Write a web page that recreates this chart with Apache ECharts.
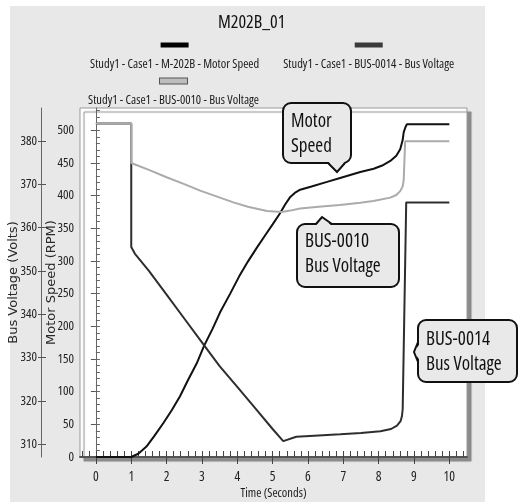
<!DOCTYPE html>
<html><head><meta charset="utf-8">
<script src="https://cdn.jsdelivr.net/npm/echarts@6/dist/echarts.min.js"></script>
<style>html,body{margin:0;padding:0;background:#fff}#c{width:518px;height:502px}</style>
</head><body><div id="c"></div>
<script>
// ---------- data ----------
const chartTitle = 'M202B_01';
const seriesNames = [
  'Study1 - Case1 - M-202B - Motor Speed',
  'Study1 - Case1 - BUS-0014 - Bus Voltage',
  'Study1 - Case1 - BUS-0010 - Bus Voltage'
];
const xTickValues = [0, 1, 2, 3, 4, 5, 6, 7, 8, 9, 10];
const rpmTickValues = [0, 50, 100, 150, 200, 250, 300, 350, 400, 450, 500];
const voltTickValues = [310, 320, 330, 340, 350, 360, 370, 380];

const speedTime = [0, 1, 1.2, 1.43, 1.65, 1.91, 2.15, 2.38, 2.6, 2.85, 3.06, 3.3, 3.51, 3.8, 4.05, 4.3, 4.55, 4.8, 5.0, 5.21, 5.35, 5.5, 5.65, 5.78, 6.1, 6.54, 6.91, 7.48, 7.86, 8.1, 8.33, 8.5, 8.61, 8.68, 8.71, 8.76, 8.8, 10];
const speedRPM  = [0, 0, 5, 16, 32, 52, 72, 93, 117, 143, 170, 196, 221, 250, 276, 299, 320, 340, 356, 373, 386, 398, 405, 409, 414, 421, 427, 436, 441, 446, 453, 461, 471, 485, 497, 505, 509, 509];

const bus14Time = [0, 1, 1, 1.1, 1.5, 2, 2.5, 3, 3.5, 4, 4.5, 5, 5.3, 5.67, 6.3, 6.91, 7.5, 8.05, 8.35, 8.52, 8.62, 8.66, 8.68, 8.78, 10];
const bus14Volt = [384, 384, 355.5, 354, 350, 344.5, 339, 333.5, 328, 323.2, 318.4, 313.5, 310.7, 311.7, 312, 312.3, 312.6, 313.0, 313.5, 314.3, 315.3, 316.5, 318, 365.8, 365.8];

const bus10Time = [0, 1, 1, 1.5, 2, 2.5, 2.95, 3.51, 3.89, 4.3, 4.84, 5.26, 5.5, 5.78, 6.3, 6.9, 7.48, 7.85, 8.33, 8.5, 8.61, 8.68, 8.71, 8.75, 10];
const bus10Volt = [384, 384, 374.9, 373.3, 371.6, 370.0, 368.5, 366.9, 365.8, 364.8, 363.8, 363.6, 363.9, 364.4, 364.8, 365.2, 365.7, 366.1, 366.9, 367.5, 368.4, 369.5, 371.0, 379.9, 379.9];

// ---------- helpers ----------
const zip = (xs, ys) => xs.map((x, i) => [x, ys[i]]);
const CF = '"Open Sans"';          // used with condensed stretch
const CW = 'normal condensed';     // weight + stretch keywords in the font shorthand
const CW5 = '500 condensed';
const WIDE = '"DejaVu Sans",Verdana,sans-serif';
const minorX = [];
for (let v = -0.4; v <= 10.41; v += 0.2) minorX.push(Math.round(v * 10) / 10);
const minorRPM = [];
for (let v = 0; v <= 530; v += 10) minorRPM.push(v);

const X_MIN = -0.45, X_MAX = 10.5;
const RPM_MAX = 534;
const V_MIN = 307.04, V_MAX = 387.58;

const mctx = document.createElement('canvas').getContext('2d');
function textW(str, size) { mctx.font = CW + ' ' + size + 'px ' + CF; return mctx.measureText(str).width; }

function bubble(x, y, w, h, tail, lines, textX, textY) {
  return {
    type: 'group', children: [
      { type: 'rect', shape: { x: x, y: y, width: w, height: h, r: 8 },
        style: { fill: '#e9e9e9', stroke: '#111', lineWidth: 2 }, z: 100 },
      { type: 'polygon', shape: { points: tail.fill },
        style: { fill: '#e9e9e9', stroke: null }, z: 101 },
      { type: 'polyline', shape: { points: tail.line },
        style: { stroke: '#111', lineWidth: 2, fill: null }, z: 102 },
      { type: 'text', x: textX, y: textY, z: 103,
        style: { text: lines, font: CW + ' 19px ' + CF, fill: '#111', lineHeight: 25, verticalAlign: 'top' } }
    ]
  };
}

const legendIcons = {};
legendIcons[seriesNames[0]] = 'a';
legendIcons[seriesNames[1]] = 'b';
legendIcons[seriesNames[2]] = 'c';
const legendRich = {
  t: { fontFamily: CF, fontWeight: CW5, fontSize: 12.5, color: '#1a1a1a', lineHeight: 16 },
  a: { width: 28, height: 5, backgroundColor: '#000', align: 'center', lineHeight: 22 },
  b: { width: 28, height: 5, backgroundColor: '#3a3a3a', align: 'center', lineHeight: 22 },
  c: { width: 27, height: 5, backgroundColor: '#bdbdbd', borderColor: '#555', borderWidth: 1, align: 'center', lineHeight: 22 }
};
const legendBase = {
  orient: 'horizontal', padding: 0, itemWidth: 0, itemHeight: 0, selectedMode: false, width: 430,
  icon: 'rect', itemStyle: { opacity: 0 }, lineStyle: { opacity: 0 },
  formatter: n => '{' + legendIcons[n] + '|}\n{t|' + n + '}',
  textStyle: { rich: legendRich }
};

const TITLE_SIZE = 18;
const titleLeft = Math.round(247 - textW(chartTitle, TITLE_SIZE) / 2);

const labelStyle = { fontFamily: CF, fontWeight: CW5, fontSize: 13, color: '#222' };

const chart = echarts.init(document.getElementById('c'), null, { renderer: 'canvas' });
chart.setOption({
  animation: false,
  backgroundColor: '#fff',
  title: {
    text: chartTitle, left: titleLeft, top: 9,
    textStyle: { fontFamily: CF, fontWeight: CW, fontSize: TITLE_SIZE, color: '#111' }
  },
  legend: [
    Object.assign({}, legendBase, { data: [seriesNames[0], seriesNames[1]], left: 85, top: 39, itemGap: 19 }),
    Object.assign({}, legendBase, { data: [seriesNames[2]], left: 83, top: 75 })
  ],
  graphic: [
    { type: 'rect', z: -100, silent: true, shape: { x: 10, y: 6, width: 475, height: 496 }, style: { fill: '#e8e8e8' } },
    bubble(283, 103, 68, 60,
      { fill: [[327, 160], [337, 172], [346, 160]], line: [[328, 163], [337, 172], [345, 163]] },
      'Motor\nSpeed', 291, 109),
    bubble(297, 224, 102, 63,
      { fill: [[315, 227], [322, 217], [333, 227]], line: [[316, 224], [322, 217], [332, 224]] },
      'BUS-0010\nBus Voltage', 305, 229),
    bubble(418, 320, 99, 62,
      { fill: [[421, 342], [414, 352], [421, 362]], line: [[418, 342], [414, 352], [418, 362]] },
      'BUS-0014\nBus Voltage', 426, 327)
  ],
  grid: {
    left: 80, right: 51, top: 108, bottom: 45, outerBoundsMode: 'none', containLabel: false,
    show: true, backgroundColor: '#fff', borderColor: '#999', borderWidth: 1,
    shadowColor: '#8c8c8c', shadowBlur: 1, shadowOffsetX: 4, shadowOffsetY: 4
  },
  xAxis: [
    {
      type: 'value', min: X_MIN, max: X_MAX,
      name: 'Time (Seconds)', nameLocation: 'middle', nameGap: 30, nameMoveOverlap: false,
      nameTextStyle: { fontFamily: CF, fontWeight: CW5, fontSize: 12.5, color: '#1a1a1a' },
      axisLine: { show: true, onZero: false, lineStyle: { color: '#555', width: 2 } },
      axisTick: { show: true, customValues: xTickValues, length: 7, lineStyle: { color: '#444' } },
      axisLabel: Object.assign({ customValues: xTickValues, margin: 13 }, labelStyle, { fontSize: 13.5 }),
      splitLine: { show: false }
    },
    {
      type: 'value', min: X_MIN, max: X_MAX, position: 'bottom',
      axisLine: { show: false },
      axisTick: { show: true, inside: true, customValues: minorX, length: 6, lineStyle: { color: '#444' } },
      axisLabel: { show: false }, splitLine: { show: false }
    }
  ],
  yAxis: [
    {
      type: 'value', min: 0, max: RPM_MAX, position: 'left',
      name: 'Motor Speed (RPM)', nameLocation: 'middle', nameGap: 22, nameMoveOverlap: false,
      nameTextStyle: { fontFamily: WIDE, fontSize: 13, color: '#2a2a2a' },
      axisLine: { show: true, lineStyle: { color: '#666' } },
      axisTick: { show: true, customValues: rpmTickValues, length: 5, lineStyle: { color: '#555' } },
      axisLabel: Object.assign({ customValues: rpmTickValues, margin: 6 }, labelStyle),
      splitLine: { show: false }
    },
    {
      type: 'value', min: 0, max: RPM_MAX, position: 'left',
      axisLine: { show: false },
      axisTick: { show: true, inside: true, customValues: minorRPM, length: 4, lineStyle: { color: '#666' } },
      axisLabel: { show: false }, splitLine: { show: false }
    },
    {
      type: 'value', min: V_MIN, max: V_MAX, position: 'left', offset: 39,
      name: 'Bus Voltage (Volts)', nameLocation: 'middle', nameGap: 21, nameMoveOverlap: false,
      nameTextStyle: { fontFamily: WIDE, fontSize: 13, color: '#2a2a2a' },
      axisLine: { show: true, lineStyle: { color: '#666' } },
      axisTick: { show: true, customValues: voltTickValues, length: 3, lineStyle: { color: '#555' } },
      axisLabel: Object.assign({ customValues: voltTickValues, margin: 4 }, labelStyle),
      splitLine: { show: false }
    },
    {
      type: 'value', min: V_MIN, max: V_MAX, position: 'left', offset: 39,
      axisLine: { show: false },
      axisTick: { show: true, inside: true, customValues: voltTickValues, length: 5, lineStyle: { color: '#555' } },
      axisLabel: { show: false }, splitLine: { show: false }
    }
  ],
  series: [
    { name: seriesNames[0], type: 'line', xAxisIndex: 0, yAxisIndex: 0, data: zip(speedTime, speedRPM),
      showSymbol: false, symbol: 'none', lineStyle: { color: '#111', width: 2 }, itemStyle: { color: '#000' }, z: 3 },
    { name: seriesNames[1], type: 'line', xAxisIndex: 0, yAxisIndex: 2, data: zip(bus14Time, bus14Volt),
      showSymbol: false, symbol: 'none', lineStyle: { color: '#2e2e2e', width: 2 }, itemStyle: { color: '#3a3a3a' }, z: 4 },
    { name: seriesNames[2], type: 'line', xAxisIndex: 0, yAxisIndex: 2, data: zip(bus10Time, bus10Volt),
      showSymbol: false, symbol: 'none', lineStyle: { color: '#ababab', width: 2 }, itemStyle: { color: '#bdbdbd' }, z: 5 }
  ]
});
</script></body></html>
